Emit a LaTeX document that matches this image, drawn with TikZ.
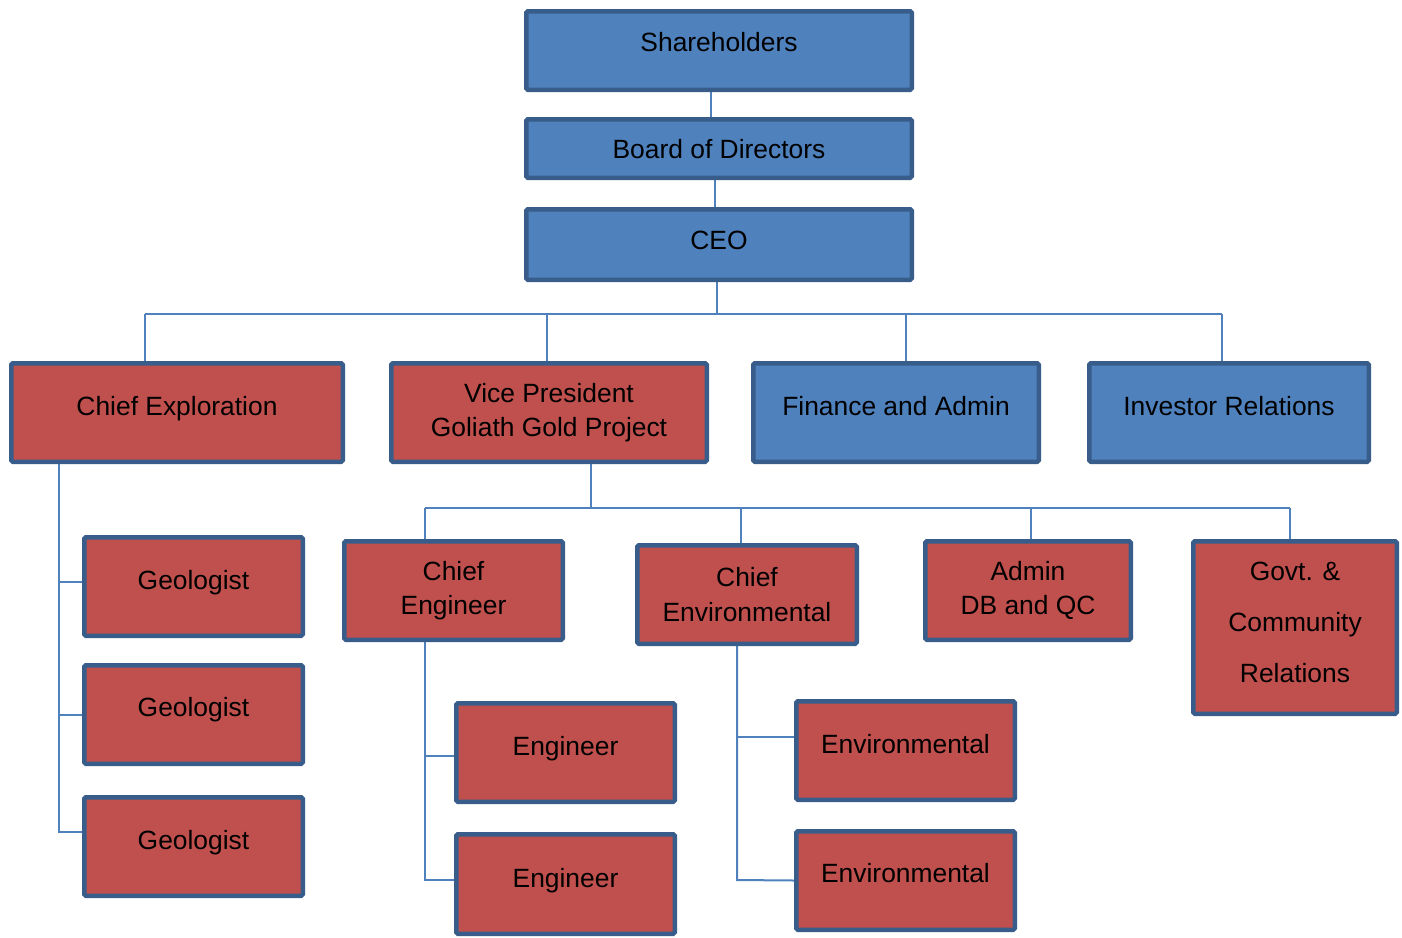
\documentclass[tikz,border=0pt]{standalone}
\usepackage{fontspec}
\setmainfont{Liberation Sans}
\usepackage{xcolor}
\definecolor{ColB}{RGB}{79,129,189}
\definecolor{ColR}{RGB}{192,80,77}
\definecolor{ColD}{RGB}{56,93,138}
\usepackage{tikz}
\usetikzlibrary{backgrounds}
\tikzstyle{Box}=[rectangle,draw=ColD,line width=4.5pt,rounded corners=1.5pt,
inner sep=0pt,align=center,font=\fontsize{26.4}{34.5}\selectfont]
\tikzstyle{BoxB}=[Box,fill=ColB]
\tikzstyle{BoxR}=[Box,fill=ColR]
\tikzstyle{OneLine}=[text height=19pt,text depth=13pt]
\tikzstyle{Edge}=[draw=ColB,line width=2pt]

\begin{document}
\begin{tikzpicture}[x=1pt,y=1pt]
            \useasboundingbox(0,0)rectangle(1402,-937);
            \node[BoxB,OneLine,text depth=17pt,minimum width=385.5pt,
                minimum height=78.5pt](sh)at(719,-50.5){Shareholders};
            \node[BoxB,OneLine,text depth=0pt,minimum width=385.5pt,
                minimum height=58.5pt](bod)at(719,-148.5){Board of Directors};
            \node[BoxB,OneLine,text depth=9pt,minimum width=385.5pt,
                minimum height=70.5pt](ceo)at(719,-244.5){CEO};
            \node[BoxR,OneLine,minimum width=331.5pt,minimum height=98.5pt]
                (cex)at(177,-412.5){Chief Exploration};
            \node[BoxR,minimum width=315.5pt,minimum height=98.5pt]
                (vp)at(549,-412.5){Vice President\\Goliath Gold Project};
            \node[BoxB,OneLine,minimum width=285.5pt,minimum height=98.5pt]
                (fin)at(896,-412.5){Finance and Admin};
            \node[BoxB,OneLine,minimum width=279.5pt,minimum height=98.5pt]
                (inv)at(1229,-412.5){Investor Relations};
            \node[BoxR,OneLine,minimum width=218.5pt,minimum height=98.5pt]
                (geo1)at(193.5,-586.5){Geologist};
            \node[BoxR,OneLine,text depth=15pt,minimum width=218.5pt,
                minimum height=98.5pt](geo2)at(193.5,-714.5){Geologist};
            \node[BoxR,OneLine,minimum width=218.5pt,minimum height=98.5pt]
                (geo3)at(193.5,-846.5){Geologist};
            \node[BoxR,minimum width=218.5pt,minimum height=98.5pt]
                (ceng)at(453.5,-590.5){Chief\\Engineer};
            \node[BoxR,minimum width=219.5pt,minimum height=98.5pt]
                (cenv)at(747,-594.5){Chief\\Environmental};
            \node[BoxR,minimum width=205.5pt,minimum height=98.5pt]
                (adm)at(1028,-590.5){Admin\\DB and QC};
            \node[BoxR,minimum width=203.5pt,minimum height=172.5pt]
                (gov)at(1295,-627.5)
                {Govt. \&\\[16.5pt]Community\\[16.5pt]Relations\rule[-11pt]{0pt}{0pt}};
            \node[BoxR,OneLine,minimum width=218.5pt,minimum height=98.5pt]
                (eng1)at(565.5,-752.5){Engineer};
            \node[BoxR,OneLine,minimum width=218.5pt,minimum height=99.5pt]
                (eng2)at(565.5,-884){Engineer};
            \node[BoxR,OneLine,minimum width=218.5pt,minimum height=98.5pt]
                (env1)at(905.5,-750.5){Environmental};
            \node[BoxR,OneLine,text depth=15pt,minimum width=218.5pt,
                minimum height=98.5pt](env2)at(905.5,-880.5){Environmental};
            %
            \coordinate(t0)at(717,-314);
            \coordinate(ta)at(145,-314);
            \coordinate(tb)at(547,-314);
            \coordinate(tc)at(906,-314);
            \coordinate(td)at(1222,-314);
            \coordinate(u0)at(591,-508);
            \coordinate(ua)at(425,-508);
            \coordinate(ub)at(741,-508);
            \coordinate(uc)at(1031,-508);
            \coordinate(ud)at(1290,-508);
            \coordinate(ga)at(59,-832);
            \coordinate(ea)at(425,-880);
            \coordinate(va)at(737,-880);
            %
            \begin{scope}[on background layer]
            \draw[Edge]([xshift=-8pt]sh.south)--([xshift=-8pt]bod.north);
            \draw[Edge]([xshift=-4pt]bod.south)--([xshift=-4pt]ceo.north);
            \draw[Edge]([xshift=-2pt]ceo.south)--(t0);
            \draw[Edge](ta)--(td);
            \draw[Edge](ta)--(ta|-cex.north);
            \draw[Edge](tb)--(tb|-vp.north);
            \draw[Edge](tc)--(tc|-fin.north);
            \draw[Edge](td)--(td|-inv.north);
            \draw[Edge]([xshift=42pt]vp.south)--(u0);
            \draw[Edge](ua)--(ud);
            \draw[Edge](ua)--(ua|-ceng.north);
            \draw[Edge](ub)--(ub|-cenv.north);
            \draw[Edge](uc)--(uc|-adm.north);
            \draw[Edge](ud)--(ud|-gov.north);
            \draw[Edge](cex.south-|ga)--(ga)--([yshift=14.5pt]geo3.west);
            \draw[Edge]([yshift=4.5pt]geo1.west-|ga)--([yshift=4.5pt]geo1.west);
            \draw[Edge](geo2.west-|ga)--(geo2.west);
            \draw[Edge](ceng.south-|ea)--(ea)--([yshift=4pt]eng2.west);
            \draw[Edge]([yshift=-3.5pt]eng1.west-|ea)--([yshift=-3.5pt]eng1.west);
            \draw[Edge](cenv.south-|va)--(va)--(env2.west);
            \draw[Edge]([yshift=13.5pt]env1.west-|va)--([yshift=13.5pt]env1.west);
            \end{scope}
        \end{tikzpicture}
\end{document}
